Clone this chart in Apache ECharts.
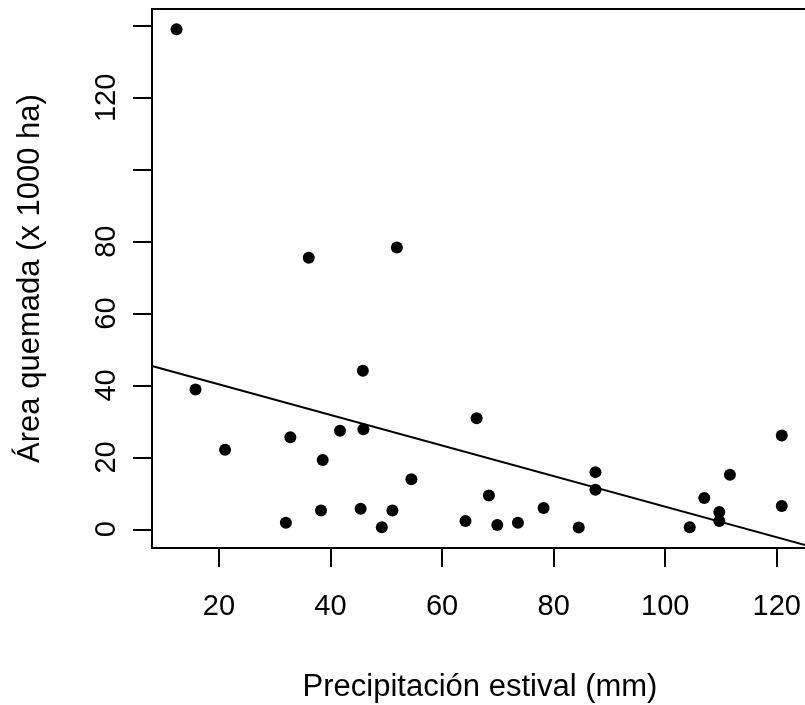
<!DOCTYPE html>
<html>
<head>
<meta charset="utf-8">
<script src="https://cdn.jsdelivr.net/npm/echarts@6/dist/echarts.min.js"></script>
<style>
html,body{margin:0;padding:0;background:#fff;}
#chart{width:805px;height:705px;}
</style>
</head>
<body>
<div id="chart"></div>
<script>
// Data
var precipitacion = [12.4, 15.8, 21.1, 32.0, 32.8, 36.1, 38.3, 38.6, 41.7, 45.4, 45.8, 45.9, 49.2, 51.1, 51.9, 54.5,
                     64.2, 66.2, 68.4, 69.9, 73.6, 78.2, 84.5, 87.5, 87.5, 104.4, 107.0, 109.7, 109.7, 111.6, 120.9, 120.9];
var areaQuemada   = [139.1, 38.9, 22.1, 1.8, 25.6, 75.5, 5.2, 19.3, 27.4, 5.7, 44.1, 27.8, 0.6, 5.2, 78.4, 13.9,
                     2.3, 30.9, 9.4, 1.2, 1.8, 5.9, 0.5, 15.9, 11.0, 0.6, 8.7, 4.8, 2.3, 15.2, 26.1, 6.5];
// fitted line endpoints
var lineX = [8, 125.6];
var lineY = [45.4, -4.6];
var xTicks = [20, 40, 60, 80, 100, 120];
var yTicks = [0, 20, 40, 60, 80, 100, 120, 140];
var yLabels = [0, 20, 40, 60, 80, 120];

var points = precipitacion.map(function (v, i) { return [v, areaQuemada[i]]; });
var linePts = lineX.map(function (v, i) { return [v, lineY[i]]; });

var font = '"Liberation Sans", Arial, Helvetica, sans-serif';
var chart = echarts.init(document.getElementById('chart'), null, {renderer: 'canvas'});
chart.setOption({
  backgroundColor: '#fff',
  animation: false,
  grid: {left: 152, top: 9, right: -3, bottom: 157, outerBoundsMode: 'none', containLabel: false,
         show: true, borderColor: '#000', borderWidth: 2, backgroundColor: 'transparent'},
  xAxis: {
    type: 'value', min: 8, max: 125.6,
    name: 'Precipitación estival (mm)', nameLocation: 'middle', nameGap: 124,
    nameTextStyle: {fontFamily: font, fontSize: 31, color: '#000'},
    axisLine: {show: true, onZero: false, lineStyle: {color: '#000', width: 2}},
    axisTick: {show: true, inside: false, length: 19, customValues: xTicks, lineStyle: {color: '#000', width: 2}},
    axisLabel: {customValues: xTicks, margin: 44, fontFamily: font, fontSize: 29, color: '#000'},
    splitLine: {show: false}
  },
  yAxis: {
    type: 'value', min: -5.2, max: 144.7,
    name: 'Área quemada (x 1000 ha)', nameLocation: 'middle', nameGap: 106, nameRotate: 90,
    nameTextStyle: {fontFamily: font, fontSize: 31, color: '#000'},
    axisLine: {show: true, onZero: false, lineStyle: {color: '#000', width: 2}},
    axisTick: {show: true, inside: false, length: 19, customValues: yTicks, lineStyle: {color: '#000', width: 2}},
    axisLabel: {customValues: yLabels, rotate: 90, margin: 31, fontFamily: font, fontSize: 29, color: '#000'},
    splitLine: {show: false}
  },
  series: [
    {
      type: 'scatter', data: points, symbol: 'circle', symbolSize: 12,
      itemStyle: {color: '#000', opacity: 1}, z: 3
    },
    {
      type: 'line', data: linePts, showSymbol: false, symbol: 'none',
      lineStyle: {color: '#000', width: 2}, clip: true, z: 2
    }
  ]
});
</script>
</body>
</html>
